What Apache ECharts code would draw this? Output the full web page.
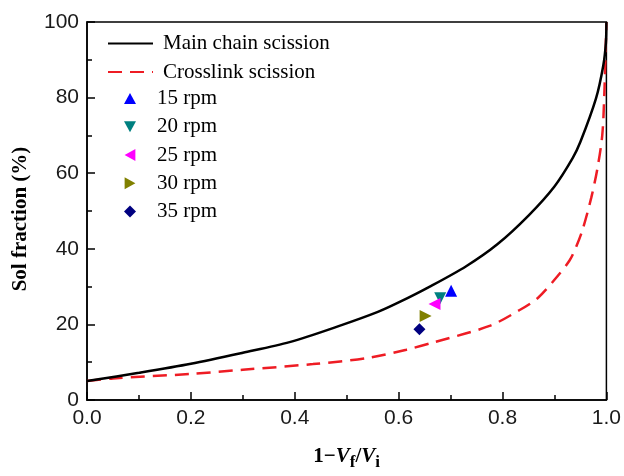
<!DOCTYPE html>
<html>
<head>
<meta charset="utf-8">
<script src="https://cdn.jsdelivr.net/npm/echarts@6/dist/echarts.min.js"></script>
<style>html,body{margin:0;padding:0;background:#fff;}#c{width:624px;height:476px;}</style>
</head>
<body>
<div id="c"></div>
<script>
// Main chain scission curve [1-Vf/Vi, sol %]
const mainX = [0, 0.1, 0.2, 0.3, 0.39, 0.49, 0.56, 0.6, 0.66, 0.73, 0.79, 0.85, 0.9, 0.935, 0.95, 0.98, 0.994, 0.999, 1.0];
const mainY = [5, 7.2, 9.6, 12.5, 15.3, 19.8, 23.3, 25.8, 30.0, 35.4, 41.2, 48.8, 56.5, 64.0, 68.3, 79.8, 88.5, 94.5, 100];
// Crosslink scission curve
const crossX = [0, 0.05, 0.2, 0.3, 0.435, 0.54, 0.615, 0.666, 0.775, 0.833, 0.868, 0.9, 0.929, 0.942, 0.954, 0.971, 0.983, 0.992, 0.996, 1.0];
const crossY = [5, 5.7, 6.9, 8.0, 9.5, 11.1, 13.3, 15.2, 19.6, 23.8, 27.0, 31.8, 36.9, 40.6, 45.0, 53.6, 61.5, 70.0, 81.0, 100];
// Experimental points
const rpmNames = ['15 rpm', '20 rpm', '25 rpm', '30 rpm', '35 rpm'];
const rpmX = [0.701, 0.680, 0.669, 0.652, 0.640];
const rpmY = [28.9, 26.9, 25.4, 22.2, 18.7];
const rpmColors = ['#0000ff', '#008080', '#ff00ff', '#808000', '#000080'];
const rpmSymbols = [
  'path://M5,0L10,9L0,9Z',
  'path://M0,0L10,0L5,9Z',
  'path://M0,5L9,0L9,10Z',
  'path://M0,0L9,5L0,10Z',
  'diamond'
];
const lineNames = ['Main chain scission', 'Crosslink scission'];

const zip = (xs, ys) => xs.map((x, i) => [x, ys[i]]);
const serif = '"Liberation Serif", "Times New Roman", serif';
const sans = '"Liberation Sans", Arial, sans-serif';

const series = [
  { name: lineNames[0], type: 'line', data: zip(mainX, mainY), symbol: 'none', showSymbol: false,
    smooth: 0.3,
    lineStyle: { color: '#000', width: 2.5, type: 'solid' }, itemStyle: { color: '#000' }, z: 3 },
  { name: lineNames[1], type: 'line', data: zip(crossX, crossY), symbol: 'none', showSymbol: false,
    smooth: 0.3,
    lineStyle: { color: '#ee1c24', width: 2.5, type: [14, 8] }, itemStyle: { color: '#ee1c24' }, z: 2 }
];
rpmNames.forEach((n, i) => {
  series.push({ name: n, type: 'scatter', data: [[rpmX[i], rpmY[i]]], symbol: rpmSymbols[i],
    symbolSize: 12, itemStyle: { color: rpmColors[i], opacity: 1 }, z: 5 });
});

const chart = echarts.init(document.getElementById('c'), null, { renderer: 'canvas' });
chart.setOption({
  animation: false,
  backgroundColor: '#fff',
  grid: { left: 87, right: 17, top: 22, bottom: 70, show: true, borderColor: '#000', borderWidth: 1.5, backgroundColor: 'transparent' },
  legend: [
    { data: lineNames, orient: 'vertical', left: 107, top: 33, padding: 0, itemWidth: 45, itemHeight: 14, itemGap: 7.6,
      itemStyle: { opacity: 0 },
      textStyle: { fontFamily: serif, fontSize: 21, color: '#000', lineHeight: 20, padding: [0, 0, 0, 5] } },
    { data: rpmNames, orient: 'vertical', left: 124, top: 88, padding: 0, itemWidth: 12, itemHeight: 12, itemGap: 7.25,
      textStyle: { fontFamily: serif, fontSize: 21, color: '#000', lineHeight: 20, padding: [0, 0, 0, 16] } }
  ],
  xAxis: {
    type: 'value', min: 0, max: 1, interval: 0.2,
    name: '{n|1−}{v|V}{s|f}{n|/}{v|V}{s|i}', nameLocation: 'middle', nameGap: 42,
    nameTextStyle: { rich: {
      n: { fontFamily: serif, fontWeight: 'bold', fontSize: 21, color: '#000' },
      v: { fontFamily: serif, fontWeight: 'bold', fontStyle: 'italic', fontSize: 21, color: '#000' },
      s: { fontFamily: serif, fontWeight: 'bold', fontSize: 17, color: '#000', padding: [12, 0, 0, 0] }
    } },
    axisLine: { show: true, lineStyle: { color: '#000', width: 1.5 } },
    axisTick: { show: true, inside: true, length: 8, lineStyle: { color: '#000', width: 1.5 } },
    minorTick: { show: true, splitNumber: 2, length: 5, lineStyle: { color: '#000', width: 1.5 } },
    axisLabel: { fontFamily: sans, fontSize: 21, color: '#1a1a1a', margin: 8, formatter: v => v.toFixed(1) },
    splitLine: { show: false }
  },
  yAxis: {
    type: 'value', min: 0, max: 100, interval: 20,
    name: 'Sol fraction (%)', nameLocation: 'middle', nameGap: 56, nameRotate: 90,
    nameTextStyle: { fontFamily: serif, fontWeight: 'bold', fontSize: 21, color: '#000', padding: [0, 16, 0, 0] },
    axisLine: { show: true, lineStyle: { color: '#000', width: 1.5 } },
    axisTick: { show: true, inside: true, length: 8, lineStyle: { color: '#000', width: 1.5 } },
    minorTick: { show: true, splitNumber: 2, length: 5, lineStyle: { color: '#000', width: 1.5 } },
    axisLabel: { fontFamily: sans, fontSize: 21, color: '#1a1a1a', margin: 8 },
    splitLine: { show: false }
  },
  series: series
});
</script>
</body>
</html>
